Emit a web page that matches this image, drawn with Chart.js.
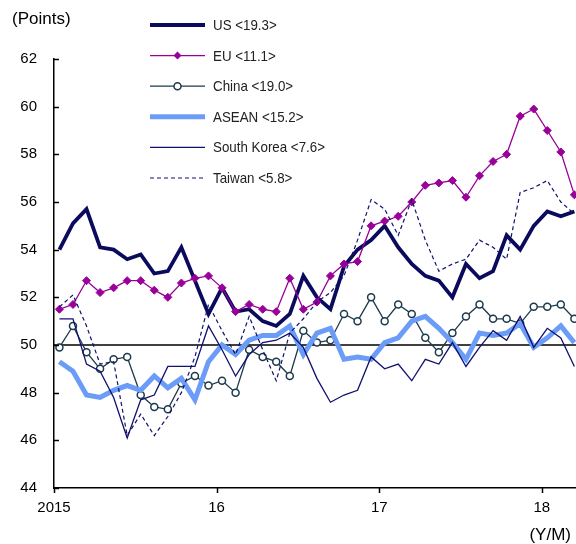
<!DOCTYPE html>
<html>
<head>
<meta charset="utf-8">
<script src="https://cdn.jsdelivr.net/npm/chart.js@4"></script>
<style>
  html, body { margin: 0; padding: 0; background: #fff; overflow: hidden; }
  canvas { display: block; }
</style>
</head>
<body>
<canvas id="lineChart" width="576" height="544"></canvas>
<script>
// monthly, 2015/01 .. 2018/03
var months = [];
for (var m = 0; m < 39; m++) { months.push(m); }

var yearTicks = [-0.4, 11.6, 23.6, 35.6];
var yearLabels = ["2015", "16", "17", "18"];

var seriesNames = ["US <19.3>", "EU <11.1>", "China <19.0>", "ASEAN <15.2>", "South Korea <7.6>", "Taiwan <5.8>"];

var usData = [54.0, 55.1, 55.7, 54.1, 54.0, 53.6, 53.8, 53.0, 53.1, 54.1, 52.7, 51.3,
              52.4, 51.4, 51.5, 51.0, 50.8, 51.3, 52.9, 52.0, 51.5, 53.3, 54.0, 54.4,
              55.0, 54.1, 53.4, 52.9, 52.7, 52.0, 53.4, 52.8, 53.1, 54.6, 54.0, 55.0,
              55.6, 55.4, 55.6];
var euData = [51.5, 51.7, 52.7, 52.2, 52.4, 52.7, 52.7, 52.3, 52.0, 52.6, 52.8, 52.9,
              52.4, 51.4, 51.7, 51.5, 51.4, 52.8, 51.5, 51.8, 52.9, 53.4, 53.5, 55.0,
              55.2, 55.4, 56.0, 56.7, 56.8, 56.9, 56.2, 57.1, 57.7, 58.0, 59.6, 59.9,
              59.0, 58.1, 56.3];
var chinaData = [49.9, 50.8, 49.7, 49.0, 49.4, 49.5, 47.9, 47.4, 47.3, 48.4, 48.7, 48.3,
                 48.5, 48.0, 49.8, 49.5, 49.3, 48.7, 50.6, 50.1, 50.2, 51.3, 51.0, 52.0,
                 51.0, 51.7, 51.3, 50.3, 49.7, 50.5, 51.2, 51.7, 51.1, 51.1, 50.9, 51.6,
                 51.6, 51.7, 51.1];
var aseanData = [49.3, 48.9, 47.9, 47.8, 48.1, 48.3, 48.1, 48.7, 48.2, 48.6, 47.7, 49.3,
                 50.0, 49.6, 50.2, 50.4, 50.4, 50.8, 49.6, 50.5, 50.7, 49.4, 49.5, 49.4,
                 50.1, 50.3, 51.0, 51.2, 50.7, 50.1, 49.4, 50.5, 50.4, 50.5, 50.9, 49.9,
                 50.3, 50.8, 50.1];
var koreaData = [51.1, 51.1, 49.2, 48.9, 47.8, 46.1, 47.7, 47.9, 49.1, 49.1, 49.1, 50.8,
                 49.8, 48.7, 49.6, 50.1, 50.2, 50.5, 49.9, 48.6, 47.6, 47.9, 48.1, 49.5,
                 49.0, 49.2, 48.5, 49.4, 49.2, 50.1, 49.1, 49.9, 50.6, 50.2, 51.2, 49.9,
                 50.7, 50.3, 49.1];
var taiwanData = [51.6, 52.1, 50.8, 49.2, 49.3, 46.2, 47.1, 46.2, 47.0, 48.0, 49.5, 51.7,
                  50.6, 49.6, 51.2, 49.8, 48.5, 50.5, 51.1, 51.8, 52.2, 52.9, 54.4, 56.1,
                  55.7, 54.6, 56.1, 54.4, 53.1, 53.4, 53.6, 54.4, 54.1, 53.6, 56.4, 56.6,
                  56.9, 56.0, 55.5];

var yMin = 44, yMax = 62, yStep = 2;
var refLine = 50;

function pts(arr) {
    return arr.map(function (v, i) { return {x: months[i], y: v}; });
}

var FONT = '"Liberation Sans", Arial, sans-serif';

// Excel-style draw order: later series on top
var lineData = {
    datasets: [
        {
            label: seriesNames[0], data: pts(usData), order: 6,
            borderColor: "#0b0b5e", borderWidth: 3.8, pointRadius: 0
        },
        {
            label: seriesNames[1], data: pts(euData), order: 5,
            borderColor: "#990099", borderWidth: 1.3,
            pointStyle: "rectRot", pointRadius: 4, pointBackgroundColor: "#990099",
            pointBorderColor: "#990099", pointBorderWidth: 1
        },
        {
            label: seriesNames[2], data: pts(chinaData), order: 4,
            borderColor: "#1c3a4c", borderWidth: 1.3,
            pointStyle: "circle", pointRadius: 3.5, pointBackgroundColor: "#ffffff",
            pointBorderColor: "#1c3a4c", pointBorderWidth: 1.5
        },
        {
            label: seriesNames[3], data: pts(aseanData), order: 3,
            borderColor: "#6b9cf7", borderWidth: 5, pointRadius: 0
        },
        {
            label: seriesNames[4], data: pts(koreaData), order: 2,
            borderColor: "#10106e", borderWidth: 1.3, pointRadius: 0
        },
        {
            label: seriesNames[5], data: pts(taiwanData), order: 1,
            borderColor: "#10106e", borderWidth: 1.2, borderDash: [4, 3], pointRadius: 0
        }
    ]
};

var legendRows = [
    {color: "#0b0b5e", width: 3.8},
    {color: "#990099", width: 1.3, marker: "diamond"},
    {color: "#1c3a4c", width: 1.3, marker: "circle"},
    {color: "#6b9cf7", width: 5},
    {color: "#10106e", width: 1.3},
    {color: "#10106e", width: 1.2, dash: [4, 3]}
];

var decorPlugin = {
    id: "decor",
    beforeDatasetsDraw: function (chart) {
        var c = chart.ctx, a = chart.chartArea;
        var y = chart.scales.y.getPixelForValue(refLine);
        c.save();
        c.strokeStyle = "#000";
        c.lineWidth = 1.5;
        c.beginPath();
        c.moveTo(a.left, y);
        c.lineTo(a.right, y);
        c.stroke();
        c.restore();
    },
    afterDraw: function (chart) {
        var c = chart.ctx, a = chart.chartArea;
        var xs = chart.scales.x, ys = chart.scales.y;
        c.save();
        c.strokeStyle = "#000";
        c.lineWidth = 1.5;
        // y ticks point inward
        for (var v = yMin; v <= yMax; v += yStep) {
            var py = Math.round(ys.getPixelForValue(v)) + 0.5;
            c.beginPath();
            c.moveTo(a.left, py);
            c.lineTo(a.left + 5, py);
            c.stroke();
        }
        // x ticks point outward
        yearTicks.forEach(function (t) {
            var px = Math.round(xs.getPixelForValue(t)) + 0.5;
            c.beginPath();
            c.moveTo(px, a.bottom);
            c.lineTo(px, a.bottom + 5);
            c.stroke();
        });

        c.fillStyle = "#000";
        c.font = "17px " + FONT;
        c.textBaseline = "middle";
        c.textAlign = "left";
        c.fillText("(Points)", 12, 19);
        c.textAlign = "right";
        c.fillText("(Y/M)", 571, 535);
        c.textAlign = "left";

        // legend
        c.font = "14.5px " + FONT;
        legendRows.forEach(function (r, i) {
            var ly = 25 + i * 30.6;
            c.save();
            c.strokeStyle = r.color;
            c.lineWidth = r.width;
            c.setLineDash(r.dash || []);
            c.beginPath();
            c.moveTo(150, ly);
            c.lineTo(205, ly);
            c.stroke();
            c.restore();
            if (r.marker === "diamond") {
                c.fillStyle = r.color;
                c.beginPath();
                c.moveTo(177.5, ly - 4);
                c.lineTo(181.5, ly);
                c.lineTo(177.5, ly + 4);
                c.lineTo(173.5, ly);
                c.closePath();
                c.fill();
            } else if (r.marker === "circle") {
                c.fillStyle = "#fff";
                c.strokeStyle = r.color;
                c.lineWidth = 1.5;
                c.beginPath();
                c.arc(177.5, ly, 3.5, 0, Math.PI * 2);
                c.fill();
                c.stroke();
            }
            // narrow text like the original
            c.save();
            c.translate(213, ly + 1);
            c.scale(0.92, 1);
            c.fillStyle = "#222";
            c.fillText(seriesNames[i], 0, 0);
            c.restore();
        });
        c.restore();
    }
};

var lineOptions = {
    responsive: false,
    animation: false,
    layout: {autoPadding: false, padding: {top: 59, right: 0, left: 0, bottom: 0}},
    plugins: {legend: {display: false}, tooltip: {enabled: false}},
    elements: {line: {tension: 0, fill: false}},
    datasets: {line: {clip: false}},
    scales: {
        x: {
            type: "linear",
            min: -0.4,
            max: 38.12,
            afterFit: function (s) {
                s.height = 56;
                s.paddingLeft = 0;
                s.paddingRight = 0;
            },
            afterBuildTicks: function (s) {
                s.ticks = yearTicks.map(function (t) { return {value: t}; });
            },
            grid: {display: false},
            border: {display: true, color: "#000", width: 1.5},
            ticks: {
                autoSkip: false,
                maxRotation: 0,
                padding: 3,
                color: "#000",
                font: {size: 15, family: FONT},
                callback: function (val, idx) { return yearLabels[idx]; }
            }
        },
        y: {
            min: yMin,
            max: yMax,
            afterFit: function (s) {
                s.width = 54;
                s.paddingTop = 0;
                s.paddingBottom = 0;
            },
            grid: {display: false},
            border: {display: true, color: "#000", width: 1.5},
            ticks: {
                stepSize: yStep,
                padding: 9,
                color: "#000",
                font: {size: 15, family: FONT}
            }
        }
    }
};

var ctx = document.getElementById("lineChart").getContext("2d");
new Chart(ctx, {type: "line", data: lineData, options: lineOptions, plugins: [decorPlugin]});
</script>
</body>
</html>
